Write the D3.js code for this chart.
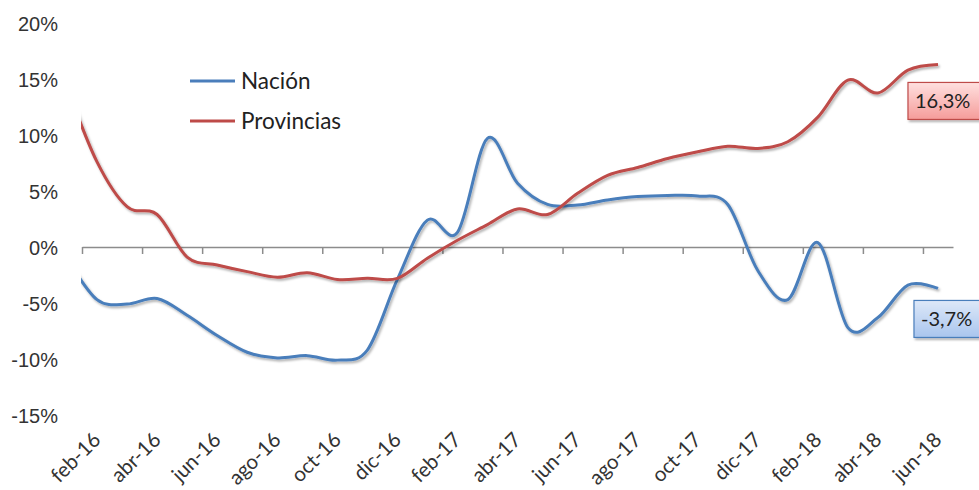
<!DOCTYPE html>
<html>
<head>
<meta charset="utf-8">
<title>Nación vs Provincias</title>
<script src="https://cdn.jsdelivr.net/npm/d3@7"></script>
<style type="text/css">
    body { margin: 0; background: #fff; }
    svg { font-family: Lato, "Open Sans", sans-serif; }
    .yaxis text { fill: #333; font-size: 20px; }
    .xlabel { fill: #333; font-size: 20.5px; }
    .legend text { fill: #222; font-size: 22.5px; }
    .dlabel { fill: #222; font-size: 20px; }
</style>
</head>
<body>
<script type="text/javascript">

var width = 979,
    height = 490;

// months (ene-16 sits just left of the plot and is clipped away)
var months = ["ene-16","feb-16","mar-16","abr-16","may-16","jun-16","jul-16","ago-16","sep-16","oct-16","nov-16","dic-16",
              "ene-17","feb-17","mar-17","abr-17","may-17","jun-17","jul-17","ago-17","sep-17","oct-17","nov-17","dic-17",
              "ene-18","feb-18","mar-18","abr-18","may-18","jun-18"];

// % values
var nacion = [-1.0, -4.7, -5.1, -4.6, -6.1, -7.9, -9.4, -9.9, -9.7, -10.1, -9.2, -2.9,
              2.4, 1.3, 9.7, 5.7, 3.8, 3.75, 4.2, 4.5, 4.6, 4.55, 3.8, -2.1,
              -4.7, 0.4, -7.2, -6.3, -3.4, -3.7];
var provincias = [14.3, 7.6, 3.6, 2.9, -0.9, -1.6, -2.2, -2.7, -2.3, -2.9, -2.8, -2.8,
                  -1.0, 0.6, 2.0, 3.4, 2.9, 4.8, 6.4, 7.1, 7.9, 8.5, 9.0, 8.8,
                  9.4, 11.6, 14.9, 13.75, 15.8, 16.3];

var yTicks = [-15, -10, -5, 0, 5, 10, 15, 20];
var lastLabels = ["-3,7%", "16,3%"];

var series = [
    { name: "Nación", values: nacion, color: "#4a7ebb", label: lastLabels[0],
      boxTop: "#dde8f8", boxBottom: "#a9c5ee" },
    { name: "Provincias", values: provincias, color: "#be4b48", label: lastLabels[1],
      boxTop: "#ffe0df", boxBottom: "#f59c9a" }
];

var svg = d3.select("body").append("svg")
    .attr("width", width)
    .attr("height", height);

// index -> x (feb-16 is index 0, categories sit between tick marks)
var x = d3.scaleLinear().domain([-0.5, 28.5]).range([82, 953]);
var y = d3.scaleLinear().domain([-15, 20]).range([415, 23]);

var defs = svg.append("defs");
defs.append("clipPath").attr("id", "plotclip")
  .append("rect").attr("x", 81).attr("y", 0).attr("width", 900).attr("height", 430);

var shadow = defs.append("filter").attr("id", "shadow")
    .attr("x", "-10%").attr("y", "-10%").attr("width", "130%").attr("height", "140%");
shadow.append("feDropShadow").attr("dx", 1.5).attr("dy", 2).attr("stdDeviation", 1.3)
    .attr("flood-color", "#000").attr("flood-opacity", 0.3);

series.forEach(function (s, k) {
    var g = defs.append("linearGradient").attr("id", "grad" + k)
        .attr("x1", 0).attr("y1", 0).attr("x2", 0).attr("y2", 1);
    g.append("stop").attr("offset", "0%").attr("stop-color", s.boxTop);
    g.append("stop").attr("offset", "100%").attr("stop-color", s.boxBottom);
});

// y axis labels
svg.append("g")
    .attr("class", "yaxis")
    .attr("transform", "translate(82,0)")
    .call(d3.axisLeft(y).tickValues(yTicks).tickSize(0).tickPadding(24)
        .tickFormat(function (d) { return d + "%"; }))
    .call(function (g) { g.select(".domain").remove(); })
    .selectAll("text").attr("dy", "0.36em");

// x axis line with ticks between categories
var tickPos = d3.range(-0.5, 28, 2);
var xa = svg.append("g")
    .attr("transform", "translate(0," + y(0) + ")")
    .call(d3.axisBottom(x).tickValues(tickPos).tickSize(7).tickSizeOuter(0).tickFormat(""));
xa.select(".domain").attr("stroke", "#8c8c8c").attr("stroke-width", 1.5);
xa.selectAll(".tick line").attr("stroke", "#8c8c8c").attr("stroke-width", 1.5);

// rotated month labels
svg.append("g").selectAll("text")
    .data(months.filter(function (m, i) { return i % 2 === 1; }))
    .enter().append("text")
    .attr("class", "xlabel")
    .attr("text-anchor", "end")
    .attr("transform", function (d) {
        var i = months.indexOf(d) - 1;
        return "translate(" + (x(i) + 5) + ",441) rotate(-45)";
    })
    .text(function (d) { return d; });

// lines
var line = d3.line()
    .x(function (d, i) { return x(i - 1); })
    .y(function (d) { return y(d); })
    .curve(d3.curveCardinal.tension(0));

svg.append("g").attr("clip-path", "url(#plotclip)")
  .selectAll("path")
    .data(series).enter()
    .append("path")
    .attr("fill", "none")
    .attr("stroke", function (d) { return d.color; })
    .attr("stroke-width", 3)
    .attr("filter", "url(#shadow)")
    .attr("d", function (d) { return line(d.values); });

// legend
var legend = svg.append("g").attr("class", "legend");
series.forEach(function (s, k) {
    var ly = 81 + k * 40;
    legend.append("line")
        .attr("x1", 190).attr("x2", 235).attr("y1", ly).attr("y2", ly)
        .attr("stroke", s.color).attr("stroke-width", 3);
    legend.append("text").attr("x", 241).attr("y", ly + 8).text(s.name);
});

// end-of-line data labels
var boxOffsets = [{ dx: -24, dy: 12 }, { dx: -30, dy: 18 }];
series.forEach(function (s, k) {
    var last = s.values.length - 1;
    var bx = x(last - 1) + boxOffsets[k].dx,
        by = y(s.values[last]) + boxOffsets[k].dy;
    svg.append("rect")
        .attr("x", bx).attr("y", by).attr("width", 90).attr("height", 37)
        .attr("fill", "url(#grad" + k + ")")
        .attr("stroke", s.color).attr("stroke-width", 1.2)
        .attr("filter", "url(#shadow)");
    svg.append("text")
        .attr("class", "dlabel")
        .attr("x", bx + 7).attr("y", by + 26)
        .text(s.label);
});

</script>
</body>
</html>
